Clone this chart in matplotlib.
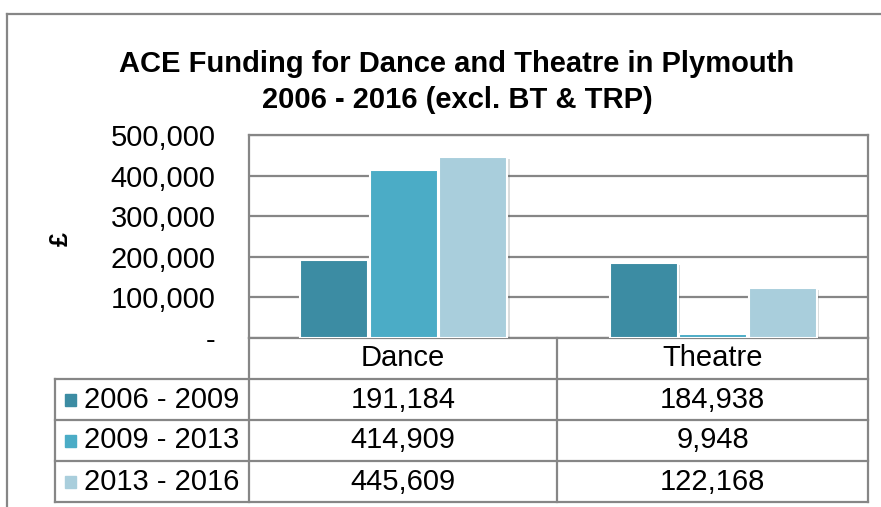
import matplotlib
matplotlib.use("Agg")
import matplotlib.pyplot as plt
from matplotlib.lines import Line2D
from matplotlib.patches import Rectangle
import matplotlib.patheffects as pe

plt.rcParams['font.family'] = ['Liberation Sans', 'DejaVu Sans']

categories = ['Dance', 'Theatre']
periods = ['2006 - 2009', '2009 - 2013', '2013 - 2016']
funding_0609 = [191184, 184938]
funding_0913 = [414909, 9948]
funding_1316 = [445609, 122168]
yticks = [0, 100000, 200000, 300000, 400000, 500000]

series = [funding_0609, funding_0913, funding_1316]
colors = ['#3c8ca3', '#4bacc6', '#a9cedc']
grey = '#868686'

W, H = 881, 507
fig = plt.figure(figsize=(W / 100, H / 100), dpi=100)


def fx(px):
    return px / W


def fy(py):
    return 1 - py / H


# plot area in pixel coordinates
left, right, top, bottom = 249, 868, 135, 338
ax = fig.add_axes([fx(left), fy(bottom), fx(right - left), fy(top) - fy(bottom)])

width = 0.22
offsets = [-0.225, 0, 0.225]
for vals, off, col in zip(series, offsets, colors):
    ax.bar([i + off for i in range(len(categories))], vals, width=width,
           color=col, edgecolor='white', linewidth=1.5, zorder=3,
           path_effects=[pe.SimplePatchShadow(offset=(1.5, -1.5), alpha=0.18),
                         pe.Normal()])

ax.set_xlim(-0.5, len(categories) - 0.5)
ax.set_ylim(0, 500000)
ax.set_yticks(yticks)
ax.set_yticklabels(['-' if v == 0 else f'{v:,}' for v in yticks], fontsize=21)
ax.set_xticks([])
ax.tick_params(axis='y', length=0, pad=24)
ax.grid(axis='y', color=grey, linewidth=1.6, zorder=0)
for s in ax.spines.values():
    s.set_color(grey)
    s.set_linewidth(1.6)

fig.text(fx(61), fy(239), '£', fontsize=18, fontweight='bold', rotation=90,
         ha='center', va='center')

fig.text(fx(457), fy(64), 'ACE Funding for Dance and Theatre in Plymouth',
         fontsize=21, fontweight='bold', ha='center', va='center')
fig.text(fx(457), fy(100), '2006 - 2016 (excl. BT & TRP)',
         fontsize=21, fontweight='bold', ha='center', va='center')

# outer chart border
fig.add_artist(Line2D([fx(7), 1], [fy(14), fy(14)], color=grey, lw=1.6))
fig.add_artist(Line2D([fx(7), fx(7)], [fy(14), 0], color=grey, lw=1.6))

# data table
tbl_left = 55
col_div = 557
rows = [338, 379, 420, 461, 502]


def hline(y, x0, x1):
    fig.add_artist(Line2D([fx(x0), fx(x1)], [fy(y), fy(y)], color=grey, lw=1.6))


def vline(x, y0, y1):
    fig.add_artist(Line2D([fx(x), fx(x)], [fy(y0), fy(y1)], color=grey, lw=1.6))


for r in rows[1:]:
    hline(r, tbl_left, right)
vline(left, rows[0], rows[-1])
vline(col_div, rows[0], rows[-1])
vline(right, rows[0], rows[-1])
vline(tbl_left, rows[1], rows[-1])

col_centers = [(left + col_div) / 2, (col_div + right) / 2]
for c, name in zip(col_centers, categories):
    fig.text(fx(c), fy((rows[0] + rows[1]) / 2), name, fontsize=21,
             ha='center', va='center')

for i, (period, vals, col) in enumerate(zip(periods, series, colors)):
    yc = (rows[i + 1] + rows[i + 2]) / 2
    fig.add_artist(Rectangle((fx(65), fy(yc + 6)), fx(11), fy(yc - 6) - fy(yc + 6),
                             color=col, transform=fig.transFigure))
    fig.text(fx(84), fy(yc), period, fontsize=21, ha='left', va='center')
    for c, v in zip(col_centers, vals):
        fig.text(fx(c), fy(yc), f'{v:,}', fontsize=21, ha='center', va='center')

fig.savefig('out.png', dpi=100)
